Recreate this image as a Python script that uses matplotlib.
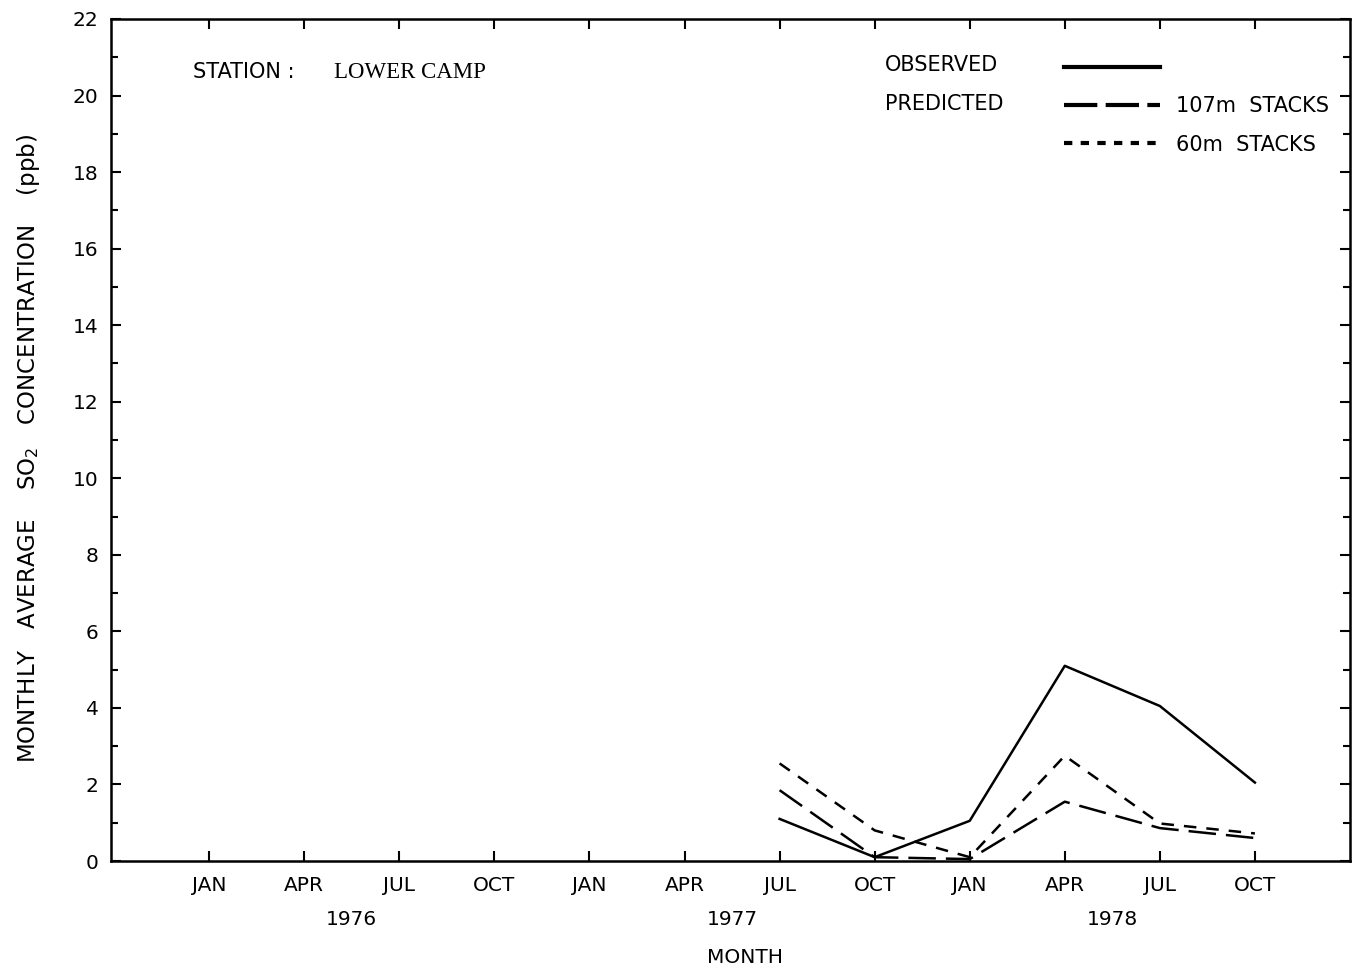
import matplotlib.pyplot as plt
from matplotlib.lines import Line2D
from matplotlib.ticker import MultipleLocator

# months counted from JAN 1976
tick_months = [0, 3, 6, 9, 12, 15, 18, 21, 24, 27, 30, 33]
tick_labels = ["JAN", "APR", "JUL", "OCT", "JAN", "APR", "JUL", "OCT", "JAN", "APR", "JUL", "OCT"]
year_pos = [4.5, 16.5, 28.5]
years = ["1976", "1977", "1978"]

months = [18, 21, 24, 27, 30, 33]
observed = [1.1, 0.1, 1.05, 5.1, 4.05, 2.05]
pred_107 = [1.85, 0.1, 0.05, 1.55, 0.86, 0.6]
pred_60 = [2.55, 0.8, 0.1, 2.75, 0.98, 0.72]

plt.rcParams['font.family'] = ['DejaVu Sans']
fig = plt.figure(figsize=(13.52, 9.73), dpi=100)
ax = fig.add_axes([0.0821, 0.1151, 0.9164, 0.8654])

lw = 1.8
ax.plot(months, observed, color='black', lw=lw, ls='-')
ax.plot(months, pred_107, color='black', lw=lw, ls=(0, (11, 4)))
ax.plot(months, pred_60, color='black', lw=lw, ls=(0, (5, 4)))

ax.set_xlim(-3.1, 36)
ax.set_ylim(0, 22)
ax.set_xticks(tick_months)
ax.set_xticklabels(tick_labels)
ax.yaxis.set_major_locator(MultipleLocator(2))
ax.yaxis.set_minor_locator(MultipleLocator(1))
ax.tick_params(axis='both', which='both', direction='in', top=True, right=True,
               labelsize=14.5, width=1.5)
ax.tick_params(axis='x', which='major', length=7, pad=11)
ax.tick_params(axis='y', which='major', length=7, pad=9)
ax.tick_params(axis='y', which='minor', length=5)
for s in ax.spines.values():
    s.set_linewidth(1.8)

for x, yr in zip(year_pos, years):
    ax.text(x, -0.069, yr, transform=ax.get_xaxis_transform(),
            ha='center', va='center', fontsize=14.5)

ax.set_xlabel("MONTH", fontsize=14.5)
ax.xaxis.set_label_coords(0.512, -0.103)
ax.set_ylabel("MONTHLY   AVERAGE    SO$_2$   CONCENTRATION    (ppb)", fontsize=16.5)
ax.yaxis.set_label_coords(-0.056, 0.49)

ax.text(0.066, 0.937, "STATION :", transform=ax.transAxes, fontsize=15, va='center')
ax.text(0.180, 0.937, "LOWER CAMP", transform=ax.transAxes, fontsize=16.5,
        va='center', family='Liberation Serif')

ax.text(0.625, 0.945, "OBSERVED", transform=ax.transAxes, fontsize=15, va='center')
ax.text(0.625, 0.899, "PREDICTED", transform=ax.transAxes, fontsize=15, va='center')

handles = [Line2D([], [], color='black', lw=3.0, ls='-'),
           Line2D([], [], color='black', lw=3.0, ls=(0, (8, 2))),
           Line2D([], [], color='black', lw=3.0, ls=(0, (2, 2)))]
labels = [" ", "107m  STACKS", "60m  STACKS"]
ax.legend(handles, labels, loc='upper right', bbox_to_anchor=(0.998, 0.976),
          frameon=False, fontsize=15, handlelength=4.6, handletextpad=0.75,
          labelspacing=0.88, alignment='right')

fig.savefig("out.png", dpi=100)
